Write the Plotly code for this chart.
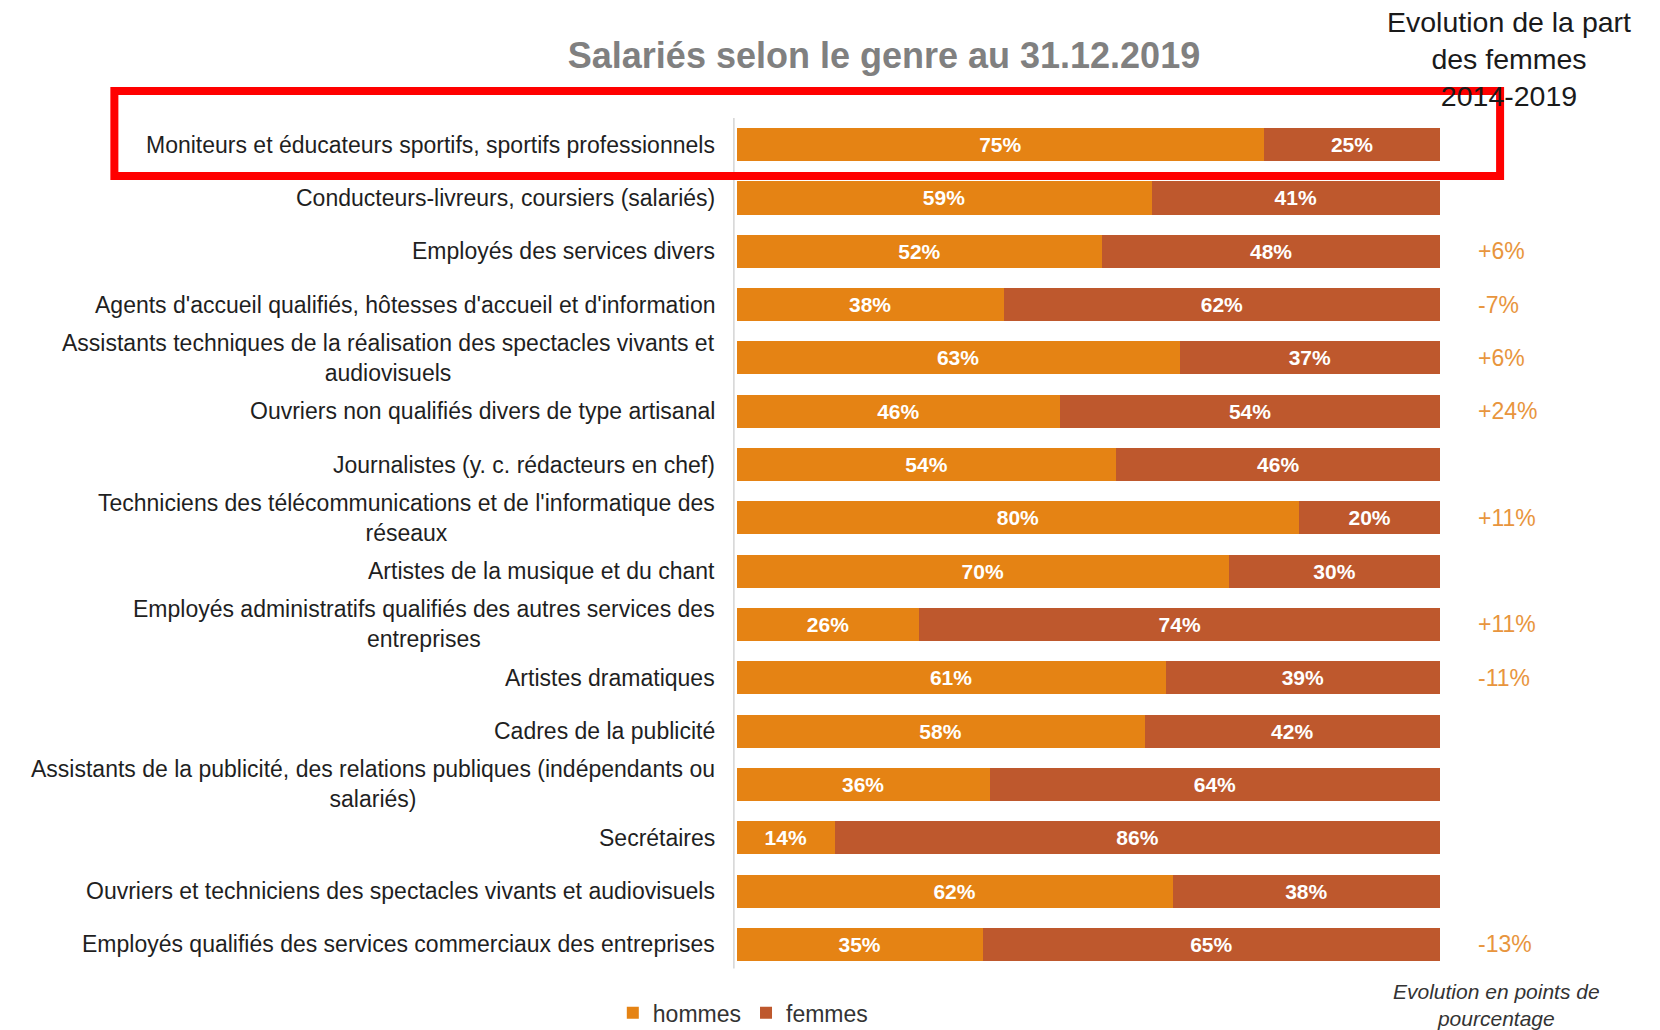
import plotly.graph_objects as go

# ---- data ----
categories = [
    "Moniteurs et éducateurs sportifs, sportifs professionnels",
    "Conducteurs-livreurs, coursiers (salariés)",
    "Employés des services divers",
    "Agents d'accueil qualifiés, hôtesses d'accueil et d'information",
    "Assistants techniques de la réalisation des spectacles vivants et<br>audiovisuels",
    "Ouvriers non qualifiés divers de type artisanal",
    "Journalistes (y. c. rédacteurs en chef)",
    "Techniciens des télécommunications et de l'informatique des<br>réseaux",
    "Artistes de la musique et du chant",
    "Employés administratifs qualifiés des autres services des<br>entreprises",
    "Artistes dramatiques",
    "Cadres de la publicité",
    "Assistants de la publicité, des relations publiques (indépendants ou<br>salariés)",
    "Secrétaires",
    "Ouvriers et techniciens des spectacles vivants et audiovisuels",
    "Employés qualifiés des services commerciaux des entreprises",
]
hommes = [75, 59, 52, 38, 63, 46, 54, 80, 70, 26, 61, 58, 36, 14, 62, 35]
femmes = [25, 41, 48, 62, 37, 54, 46, 20, 30, 74, 39, 42, 64, 86, 38, 65]
evolution = ["", "", "+6%", "-7%", "+6%", "+24%", "", "+11%", "", "+11%", "-11%", "", "", "", "", "-13%"]

title_text = "Salariés selon le genre au 31.12.2019"
header_text = "Evolution de la part<br>des femmes<br>2014-2019"
note_text = "<i>Evolution en points de<br>pourcentage</i>"

# ---- style ----
C_H = "#E58314"
C_F = "#BE582D"
C_EVO = "#E8953D"
FONT = "Liberation Sans, Arial, sans-serif"

fig = go.Figure()
fig.add_trace(go.Bar(
    y=categories, x=hommes, orientation="h", name="hommes",
    marker=dict(color=C_H, line=dict(width=0)),
    texttemplate="<b>%{x}%</b>", textposition="inside", insidetextanchor="middle",
    textfont=dict(color="white", size=21, family=FONT), constraintext="none",
))
fig.add_trace(go.Bar(
    y=categories, x=femmes, orientation="h", name="femmes",
    marker=dict(color=C_F, line=dict(width=0)),
    texttemplate="<b>%{x}%</b>", textposition="inside", insidetextanchor="middle",
    textfont=dict(color="white", size=21, family=FONT), constraintext="none",
))

annotations = []
for cat in categories:
    annotations.append(dict(
        x=0, xref="paper", y=cat, yref="y", text=cat, showarrow=False,
        xanchor="right", yanchor="middle", align="center", xshift=-16,
        font=dict(size=23, color="#1f1f1f", family=FONT),
    ))
for cat, ev in zip(categories, evolution):
    if ev:
        annotations.append(dict(
            x=1.051, xref="paper", y=cat, yref="y", text=ev, showarrow=False,
            xanchor="left", yanchor="middle",
            font=dict(size=23, color=C_EVO, family=FONT),
        ))
annotations.append(dict(
    x=1.098, xref="paper", y=1.069, yref="paper", text=header_text, showarrow=False,
    xanchor="center", yanchor="middle", align="center",
    font=dict(size=28.5, color="#1a1a1a", family=FONT),
))
annotations.append(dict(
    x=1.0795, xref="paper", y=-0.040, yref="paper", text=note_text, showarrow=False,
    xanchor="center", yanchor="middle", align="center",
    font=dict(size=21, color="#333333", family=FONT),
))

fig.update_layout(
    width=1660, height=1030,
    barmode="stack", bargap=0.38,
    paper_bgcolor="white", plot_bgcolor="white",
    margin=dict(l=725, r=228, t=110, b=67, autoexpand=False),
    title=dict(text="<b>" + title_text + "</b>", x=876 / 1660, xanchor="center",
               y=1 - 47 / 1030, yanchor="middle", yref="container",
               font=dict(size=36, color="#808080", family=FONT)),
    xaxis=dict(range=[-0.5, 100], visible=False, fixedrange=True),
    yaxis=dict(autorange="reversed", showticklabels=False, showgrid=False,
               zeroline=False, showline=False, ticks=""),
    showlegend=True,
    legend=dict(orientation="h", x=-0.17, xanchor="left", y=-0.049, yanchor="middle",
                font=dict(size=23, color="#333333", family=FONT),
                itemwidth=30, traceorder="normal", bgcolor="rgba(0,0,0,0)"),
    annotations=annotations,
    shapes=[
        dict(type="line", xref="x", yref="paper", x0=-0.4, x1=-0.4, y0=0.003, y1=1.0,
             line=dict(color="#d9d9d9", width=2)),
        dict(type="rect", xref="paper", yref="paper", x0=-0.875, x1=1.085,
             y0=0.932, y1=1.0317, line=dict(color="#ff0000", width=8),
             fillcolor="rgba(0,0,0,0)", layer="above"),
    ],
)

fig.write_html("out.html")
